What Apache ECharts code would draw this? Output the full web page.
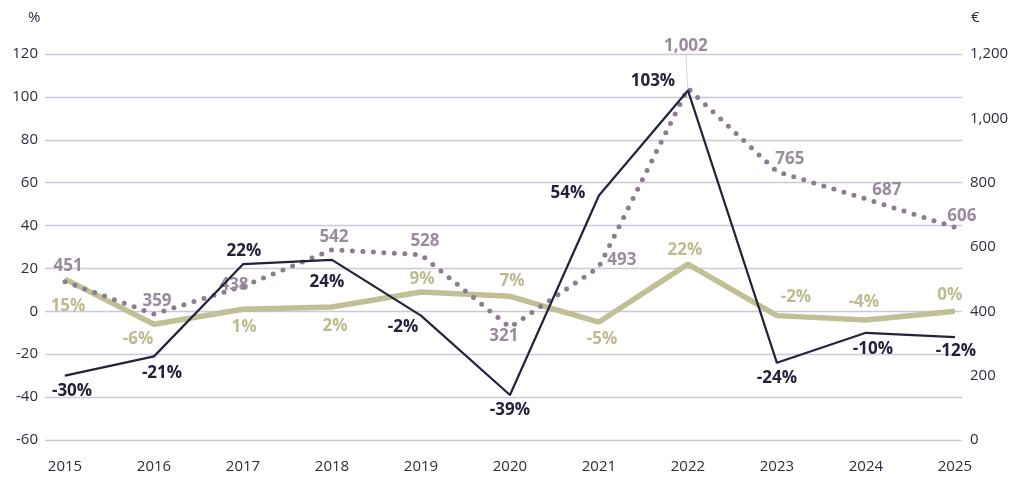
<!DOCTYPE html>
<html>
<head>
<meta charset="utf-8">
<script src="https://cdn.jsdelivr.net/npm/echarts@6/dist/echarts.min.js"></script>
<style>
  html, body { margin: 0; padding: 0; background: #fff; }
  #chart { width: 1016px; height: 477px; }
</style>
</head>
<body>
<div id="chart"></div>
<script>
// data
const years = [2015, 2016, 2017, 2018, 2019, 2020, 2021, 2022, 2023, 2024, 2025];
const pctDark = [-30, -21, 22, 24, -2, -39, 54, 103, -24, -10, -12];
const pctOlive = [15, -6, 1, 2, 9, 7, -5, 22, -2, -4, 0];
const euroValues = [451, 359, 438, 542, 528, 321, 493, 1002, 765, 687, 606];
const leftTicks = [-60, 120, 20];
const rightTicks = [0, 1200, 200];

// label placement (centre of label relative to the point)
const darkOffsets = [[7, 15], [8, 17], [1, -13], [-5, 22], [-18, 12], [0, 15], [-31, -2], [-35, -9], [0, 15], [7, 16], [1, 14]];
const oliveOffsets = [[3, 27], [-16, 15], [1, 18], [3, 19], [1, -13], [2, -15], [3, 17], [-3, -14], [19, -18], [-2, -18], [-5, -16]];
const euroOffsets = [[3, -16], [3, -13], [-9, -1], [2, -13], [4, -14], [-6, 9], [23, -7], [-2, -42], [13, -12], [21, -9], [7, -11]];

const DARK = '#23213b';
const OLIVE = '#c0bf95';
const MAUVE = '#8d7c8f';
const GRID = '#cbc8d8';
const AXIS_TEXT = '#2e2c40';
const FONT = '"Open Sans", sans-serif';

function build(values, offsets) {
  return years.map((y, i) => ({
    value: [y, values[i]],
    label: offsets ? { offset: offsets[i] } : undefined
  }));
}

const chart = echarts.init(document.getElementById('chart'));

const euroData = build(euroValues, null);
euroData[7].labelLine = { show: true, lineStyle: { color: '#d6d3dd', width: 1 } };

chart.setOption({
  animation: false,
  grid: { left: 45, right: 54, top: 54, bottom: 37, containLabel: false },
  xAxis: {
    type: 'value',
    min: 2014.775,
    max: 2025.08,
    axisLine: { show: false },
    axisTick: { show: false },
    splitLine: { show: false },
    axisLabel: {
      customValues: years,
      formatter: v => String(v),
      color: AXIS_TEXT,
      fontFamily: FONT,
      fontSize: 15,
      margin: 19
    }
  },
  yAxis: [
    {
      type: 'value',
      min: leftTicks[0],
      max: leftTicks[1],
      interval: leftTicks[2],
      axisLine: { show: false },
      axisTick: { show: false },
      splitLine: { lineStyle: { color: GRID, width: 1.4 } },
      axisLabel: { color: AXIS_TEXT, fontFamily: FONT, fontSize: 15, margin: 7 }
    },
    {
      type: 'value',
      position: 'right',
      min: rightTicks[0],
      max: rightTicks[1],
      interval: rightTicks[2],
      axisLine: { show: false },
      axisTick: { show: false },
      splitLine: { show: false },
      axisLabel: {
        color: AXIS_TEXT,
        fontFamily: FONT,
        fontSize: 15,
        margin: 8,
        formatter: v => v.toLocaleString('en-US')
      }
    },
    {
      // the dotted € line in the original sits on its own scale
      type: 'value',
      show: false,
      min: 0,
      max: 1100
    }
  ],
  graphic: [
    { type: 'text', left: 28, top: 10, style: { text: '%', fill: AXIS_TEXT, font: '15px ' + FONT } },
    { type: 'text', left: 971, top: 10, style: { text: '€', fill: AXIS_TEXT, font: '15px ' + FONT } }
  ],
  series: [
    {
      name: 'olive',
      type: 'line',
      yAxisIndex: 0,
      data: build(pctOlive, oliveOffsets),
      symbol: 'circle',
      symbolSize: 1,
      itemStyle: { color: OLIVE },
      lineStyle: { color: OLIVE, width: 5.5 },
      label: {
        show: true,
        position: 'inside',
        color: '#bdbb8f',
        fontFamily: FONT,
        fontWeight: 'bold',
        fontSize: 17,
        formatter: p => p.value[1] + '%'
      },
      z: 2
    },
    {
      name: 'euro',
      type: 'line',
      yAxisIndex: 2,
      data: euroData,
      symbol: 'circle',
      symbolSize: 1,
      itemStyle: { color: MAUVE },
      lineStyle: { color: MAUVE, width: 5, type: [0, 10.5], cap: 'round' },
      labelLayout: p => ({ dx: euroOffsets[p.dataIndex][0], dy: euroOffsets[p.dataIndex][1] }),
      label: {
        show: true,
        position: 'inside',
        color: '#9a8b9c',
        fontFamily: FONT,
        fontWeight: 'bold',
        fontSize: 17,
        formatter: p => p.value[1].toLocaleString('en-US')
      },
      z: 3
    },
    {
      name: 'dark',
      type: 'line',
      yAxisIndex: 0,
      data: build(pctDark, darkOffsets),
      symbol: 'circle',
      symbolSize: 1,
      itemStyle: { color: DARK },
      lineStyle: { color: DARK, width: 2.2 },
      label: {
        show: true,
        position: 'inside',
        color: DARK,
        fontFamily: FONT,
        fontWeight: 'bold',
        fontSize: 17,
        formatter: p => p.value[1] + '%'
      },
      z: 4
    }
  ]
});
</script>
</body>
</html>
